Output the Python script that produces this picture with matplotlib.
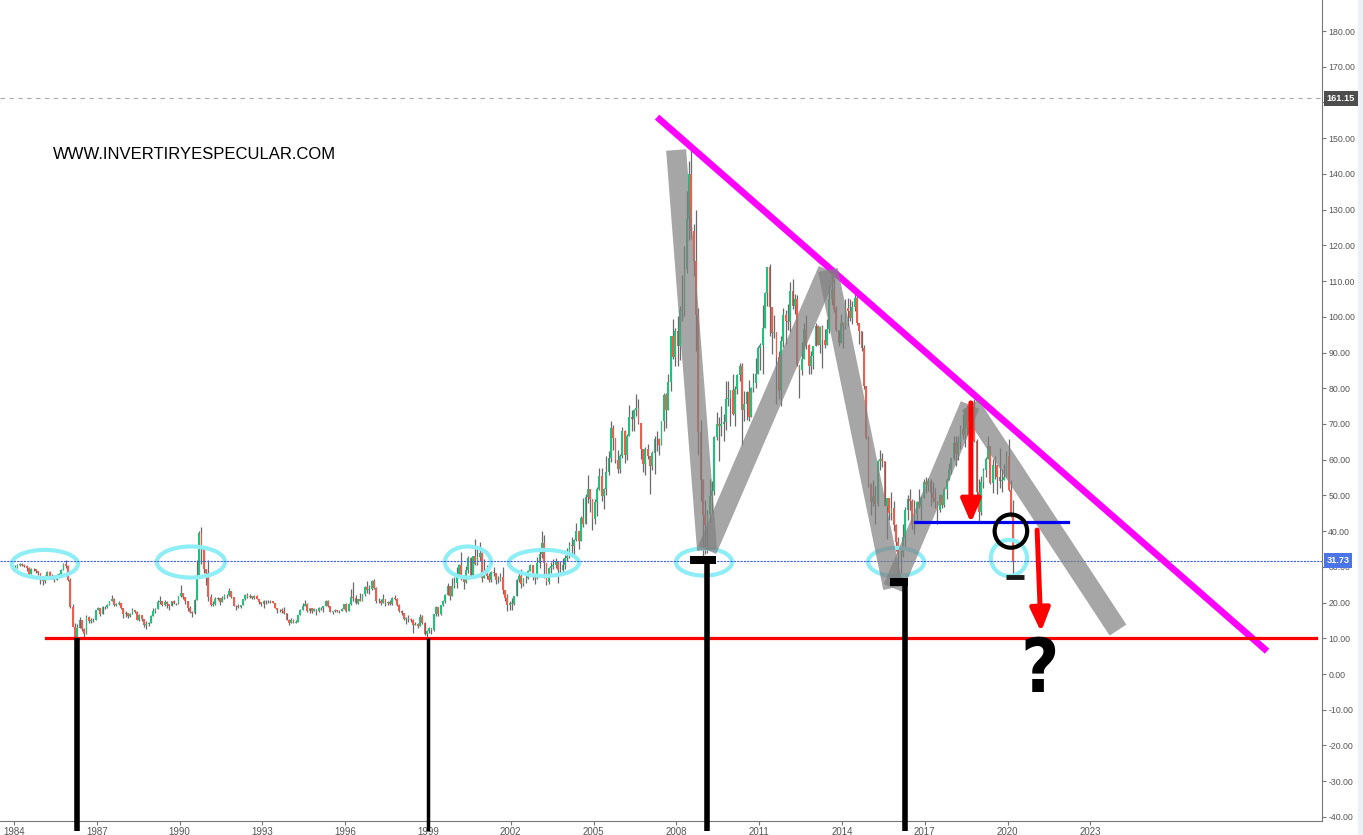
import matplotlib
matplotlib.use('Agg')
import matplotlib.pyplot as plt
import matplotlib.transforms as mtransforms
from matplotlib.patches import Ellipse, Rectangle
import numpy as np

# WTI mensual (cierre / maximo / minimo), enero 1984 - marzo 2020
first_open = 29.9
close = [
    29.7, 30.6, 30.7, 30.5, 30.3, 29.8, 28.1, 29.5, 29.3, 28.7, 28.3, 26.4,
    25.9, 27.5, 28.5, 26.9, 27.5, 26.3, 27.6, 27.9, 29.2, 30.7, 30.2, 26.3,
    18.8, 13.3, 10.4, 12.8, 15.1, 12.6, 11.1, 15.9, 14.9, 15.2, 15.0, 17.9,
    18.5, 16.8, 18.8, 18.7, 19.4, 20.3, 20.9, 19.2, 19.6, 19.9, 18.4, 16.7,
    17.0, 16.2, 16.8, 17.9, 17.4, 15.2, 16.5, 15.4, 13.6, 14.0, 14.2, 16.3,
    17.7, 18.3, 20.2, 20.5, 19.3, 20.1, 19.6, 19.0, 20.3, 19.9, 19.9, 21.8,
    22.7, 21.5, 20.3, 18.5, 17.4, 17.1, 20.7, 27.2, 39.5, 35.2, 29.5, 28.4,
    21.5, 19.2, 19.6, 20.9, 21.2, 20.2, 21.4, 22.0, 22.2, 23.2, 21.5, 19.1,
    18.9, 18.7, 19.2, 20.9, 22.1, 21.5, 21.8, 21.4, 21.9, 21.0, 20.1, 19.5,
    20.3, 20.4, 20.3, 20.4, 19.9, 18.6, 17.8, 18.0, 17.6, 17.0, 15.2, 14.2,
    15.2, 14.4, 14.7, 16.4, 17.9, 19.1, 19.6, 17.6, 18.4, 17.6, 18.1, 17.7,
    18.4, 18.5, 18.9, 20.3, 19.0, 17.4, 17.6, 17.9, 17.6, 17.6, 18.2, 19.6,
    17.7, 19.5, 21.5, 21.2, 19.8, 20.9, 20.4, 22.3, 24.4, 23.4, 23.8, 25.9,
    24.2, 20.3, 20.4, 19.9, 20.9, 19.8, 20.1, 19.6, 21.2, 21.1, 19.2, 17.6,
    17.2, 15.4, 15.6, 15.3, 15.2, 13.7, 14.1, 13.4, 16.1, 14.4, 11.2, 12.1,
    12.8, 12.3, 16.8, 18.7, 16.8, 19.3, 20.5, 22.1, 24.5, 21.8, 24.6, 25.6,
    27.6, 30.4, 26.9, 25.7, 29.0, 32.5, 27.4, 33.1, 30.8, 32.7, 34.0, 26.8,
    28.7, 27.4, 26.3, 28.5, 28.4, 26.3, 26.4, 27.2, 23.4, 21.2, 19.4, 19.8,
    19.5, 21.7, 26.3, 27.3, 25.3, 26.9, 27.0, 28.9, 30.5, 27.2, 26.9, 31.2,
    33.5, 36.6, 31.0, 25.8, 29.6, 30.2, 30.5, 31.6, 29.2, 29.1, 30.4, 32.5,
    33.1, 36.2, 35.8, 37.4, 39.9, 37.1, 43.8, 42.1, 49.6, 51.8, 49.1, 43.5,
    48.2, 51.8, 55.4, 49.7, 51.9, 56.5, 60.6, 68.9, 66.2, 59.8, 57.3, 61.0,
    67.9, 61.4, 66.6, 71.9, 71.3, 73.9, 74.4, 70.3, 62.9, 58.7, 63.1, 61.1,
    58.1, 62.0, 65.9, 65.7, 64.0, 70.7, 78.2, 74.0, 81.7, 94.5, 88.7, 96.0,
    91.8, 101.8, 101.6, 113.5, 127.4, 140.0, 124.1, 115.5, 100.6, 67.8, 54.4, 44.6,
    41.7, 44.8, 49.7, 51.1, 66.3, 69.9, 69.5, 70.0, 70.6, 77.0, 77.3, 79.4,
    72.9, 79.7, 83.8, 86.2, 74.0, 75.6, 78.9, 71.9, 80.0, 81.4, 84.1, 91.4,
    92.2, 97.0, 106.7, 113.9, 102.7, 95.4, 95.7, 88.8, 79.2, 93.2, 100.4, 98.8,
    98.5, 107.1, 103.0, 104.9, 86.5, 85.0, 88.1, 96.5, 92.2, 86.2, 88.9, 91.8,
    97.5, 92.1, 97.2, 93.5, 92.0, 96.6, 105.0, 107.7, 102.3, 96.4, 92.7, 98.4,
    97.5, 102.6, 101.6, 99.7, 102.7, 105.4, 98.2, 96.0, 91.2, 80.5, 66.2, 53.3,
    48.2, 49.8, 47.6, 59.6, 60.3, 59.5, 47.1, 49.2, 45.1, 46.6, 41.7, 37.0,
    33.6, 33.8, 38.3, 45.9, 49.1, 48.3, 41.6, 44.7, 48.2, 46.9, 49.4, 53.7,
    52.8, 54.0, 50.6, 49.3, 48.3, 46.0, 50.2, 47.2, 51.7, 54.4, 57.4, 60.4,
    64.7, 61.6, 64.9, 68.6, 67.0, 74.2, 68.8, 69.8, 73.3, 65.3, 50.9, 45.4,
    53.8, 57.2, 60.1, 63.9, 53.5, 58.5, 58.6, 55.1, 54.1, 54.2, 55.2, 61.1,
    51.6, 44.8, 31.73,
]
high = [
    30.6, 30.8, 31.2, 31.0, 30.9, 30.4, 29.9, 29.7, 29.8, 29.5, 28.9, 28.4,
    26.6, 27.8, 28.8, 28.7, 27.9, 27.6, 27.9, 28.3, 29.5, 31.0, 31.8, 30.4,
    26.8, 19.6, 14.2, 13.9, 16.0, 15.2, 13.0, 16.4, 16.2, 15.8, 15.6, 18.0,
    18.8, 18.6, 18.9, 19.1, 19.6, 20.4, 22.2, 21.3, 19.8, 20.4, 19.4, 18.5,
    17.5, 17.2, 17.0, 18.5, 18.0, 17.5, 16.8, 16.6, 15.5, 14.8, 14.6, 16.6,
    18.4, 18.5, 20.8, 21.9, 20.4, 20.6, 20.3, 19.7, 20.5, 20.8, 20.0, 21.9,
    25.0, 22.8, 21.6, 20.5, 19.1, 17.6, 21.0, 31.9, 40.0, 41.2, 35.3, 29.0,
    32.0, 22.3, 20.5, 21.5, 21.6, 21.2, 21.8, 22.3, 22.5, 24.0, 23.2, 20.6,
    19.4, 19.5, 19.4, 21.0, 22.3, 22.6, 22.3, 21.9, 22.2, 22.0, 21.0, 20.0,
    20.6, 20.6, 20.7, 20.7, 20.3, 19.8, 18.5, 18.2, 18.4, 18.8, 17.1, 15.3,
    15.6, 15.3, 15.1, 16.5, 18.3, 19.9, 20.6, 19.9, 18.6, 18.5, 18.4, 18.0,
    18.8, 18.8, 19.0, 20.8, 20.6, 19.0, 17.7, 18.2, 18.0, 17.8, 18.5, 19.7,
    19.8, 19.8, 23.8, 25.8, 22.0, 21.1, 22.7, 22.5, 24.7, 25.9, 24.8, 26.2,
    26.6, 24.4, 21.3, 20.9, 22.3, 20.9, 20.5, 20.8, 21.5, 22.1, 21.2, 19.5,
    17.9, 17.1, 16.0, 16.5, 15.6, 15.3, 14.7, 14.2, 16.8, 16.4, 14.6, 12.3,
    13.1, 12.9, 16.9, 18.9, 18.8, 19.4, 20.7, 22.3, 25.6, 24.6, 26.8, 27.2,
    30.0, 30.9, 34.1, 27.8, 30.2, 33.0, 32.7, 33.1, 37.8, 34.9, 37.0, 34.2,
    32.2, 30.4, 28.3, 28.8, 29.9, 28.3, 27.5, 28.4, 29.9, 23.3, 22.5, 20.5,
    21.3, 21.9, 26.5, 28.4, 29.4, 27.0, 28.0, 29.2, 30.8, 30.6, 27.7, 32.7,
    34.3, 39.9, 38.9, 31.1, 30.0, 31.4, 32.1, 32.5, 29.6, 31.7, 32.6, 33.3,
    35.2, 37.0, 38.4, 37.9, 42.3, 40.0, 44.3, 49.4, 50.5, 55.7, 51.6, 46.4,
    49.1, 52.3, 57.6, 57.6, 52.2, 60.9, 62.3, 70.9, 69.8, 66.0, 62.6, 61.7,
    69.2, 68.3, 67.2, 75.4, 73.8, 74.2, 78.4, 77.0, 70.0, 61.5, 63.5, 64.4,
    61.1, 62.3, 66.7, 67.9, 66.2, 70.9, 78.8, 78.8, 83.9, 94.7, 99.3, 96.8,
    100.1, 103.1, 111.8, 119.9, 135.1, 143.7, 147.3, 126.0, 130.0, 102.6, 71.0, 54.7,
    48.6, 45.8, 54.7, 53.9, 66.5, 73.4, 71.9, 75.0, 72.8, 82.0, 82.0, 79.6,
    83.9, 80.5, 83.9, 87.2, 87.2, 79.3, 79.3, 82.4, 80.3, 84.4, 88.6, 91.9,
    92.6, 103.4, 106.9, 114.0, 114.8, 102.6, 100.6, 95.5, 90.5, 94.6, 102.4, 101.9,
    103.7, 109.8, 110.6, 106.3, 106.1, 86.2, 92.9, 98.3, 100.4, 92.4, 90.3, 91.6,
    98.2, 97.8, 97.4, 97.8, 96.6, 99.3, 108.9, 112.2, 110.7, 103.1, 95.3, 100.8,
    98.6, 104.9, 105.2, 104.9, 104.5, 107.7, 106.1, 98.0, 95.9, 92.2, 80.5, 66.6,
    53.6, 54.2, 52.5, 59.9, 62.6, 61.9, 59.7, 49.4, 48.7, 50.9, 48.4, 42.0,
    38.4, 34.7, 41.9, 46.8, 50.2, 51.7, 49.0, 48.8, 48.4, 51.9, 49.9, 54.5,
    55.2, 54.9, 54.6, 53.8, 52.0, 48.3, 50.4, 50.2, 52.4, 54.9, 59.1, 60.5,
    66.7, 66.7, 66.6, 69.6, 72.9, 74.5, 75.3, 71.4, 74.0, 76.9, 65.8, 54.6,
    55.4, 57.8, 60.7, 66.6, 63.9, 60.1, 60.9, 57.5, 63.4, 57.5, 58.7, 62.3,
    65.7, 54.3, 48.7,
]
low = [
    29.2, 29.6, 30.3, 30.1, 29.9, 28.9, 27.8, 27.9, 28.9, 28.4, 27.7, 25.3,
    24.9, 25.6, 27.3, 26.5, 26.6, 25.8, 26.2, 27.3, 27.6, 29.1, 29.6, 26.0,
    18.4, 13.1, 10.0, 10.4, 12.8, 12.0, 10.4, 11.6, 14.3, 14.4, 14.7, 15.0,
    17.8, 16.2, 16.7, 18.1, 18.6, 19.3, 20.3, 18.9, 18.9, 19.3, 18.3, 15.6,
    16.1, 15.8, 15.9, 16.7, 17.2, 15.0, 14.9, 14.9, 13.3, 12.6, 13.5, 14.3,
    16.3, 17.2, 18.2, 19.7, 18.9, 19.0, 18.6, 18.0, 19.0, 19.5, 19.2, 19.7,
    21.6, 21.1, 19.6, 17.5, 17.0, 15.9, 16.8, 26.3, 27.6, 30.9, 28.3, 25.0,
    20.5, 18.9, 18.9, 19.4, 20.7, 19.2, 20.3, 21.1, 21.2, 21.8, 21.3, 19.0,
    17.9, 18.5, 18.4, 19.2, 20.8, 21.4, 21.2, 21.0, 21.0, 20.9, 19.7, 19.1,
    18.6, 19.6, 20.0, 20.0, 19.8, 18.4, 17.1, 17.4, 17.2, 16.8, 15.0, 13.8,
    14.3, 14.2, 14.2, 14.6, 16.4, 17.8, 19.0, 17.3, 17.2, 17.2, 17.5, 16.6,
    17.3, 17.8, 17.4, 18.9, 18.7, 17.3, 16.9, 17.3, 17.3, 17.0, 17.5, 18.2,
    17.3, 17.5, 19.2, 20.3, 19.5, 19.5, 20.3, 20.3, 21.9, 22.8, 22.4, 23.5,
    23.9, 19.9, 19.8, 19.2, 19.9, 19.1, 19.2, 19.4, 19.2, 20.8, 18.9, 17.4,
    16.4, 15.2, 13.9, 14.7, 14.6, 11.4, 13.6, 12.9, 13.5, 14.0, 10.8, 10.4,
    11.4, 11.3, 12.1, 16.2, 16.3, 16.4, 19.0, 20.0, 22.0, 20.8, 21.9, 24.0,
    24.1, 27.1, 26.4, 23.9, 25.4, 28.4, 27.2, 27.5, 30.4, 30.4, 31.7, 25.8,
    26.8, 26.6, 25.7, 25.8, 27.5, 25.3, 25.4, 26.0, 22.5, 20.4, 17.5, 17.8,
    17.9, 19.3, 21.7, 25.7, 24.2, 24.6, 25.5, 26.6, 28.9, 26.4, 25.1, 26.7,
    29.6, 32.6, 26.8, 24.8, 25.1, 28.4, 29.3, 29.7, 25.5, 28.0, 28.5, 29.4,
    31.7, 32.5, 33.6, 33.4, 37.2, 35.0, 37.3, 41.2, 42.1, 48.0, 45.3, 40.3,
    42.0, 44.2, 51.4, 48.5, 46.2, 50.1, 55.6, 59.4, 62.6, 59.0, 56.3, 56.3,
    60.4, 59.0, 60.0, 66.6, 68.1, 67.9, 72.3, 69.9, 60.2, 56.6, 55.7, 60.3,
    50.5, 57.1, 56.1, 62.4, 61.3, 64.0, 68.0, 69.0, 73.9, 79.2, 88.1, 86.3,
    86.1, 87.8, 98.7, 100.1, 112.3, 121.6, 121.8, 111.3, 90.5, 61.3, 48.3, 32.4,
    33.6, 34.0, 42.6, 45.1, 50.0, 65.6, 59.5, 66.5, 65.1, 68.2, 75.0, 69.5,
    72.4, 69.5, 78.3, 82.0, 64.2, 70.7, 71.1, 70.8, 72.6, 79.0, 80.2, 84.5,
    85.1, 84.1, 96.8, 102.9, 94.6, 89.6, 94.1, 75.7, 77.1, 74.9, 91.6, 92.5,
    96.4, 95.8, 102.1, 100.7, 86.3, 77.3, 83.7, 89.6, 91.0, 84.0, 84.1, 85.5,
    91.9, 92.0, 90.0, 85.6, 91.2, 92.1, 95.6, 103.3, 101.4, 95.9, 91.8, 92.6,
    91.2, 96.6, 97.4, 98.7, 98.1, 101.5, 97.6, 92.5, 90.3, 79.8, 65.7, 52.4,
    44.4, 47.1, 42.0, 47.1, 57.1, 58.0, 47.0, 37.8, 43.2, 43.0, 39.9, 34.5,
    26.2, 26.1, 32.7, 35.2, 43.0, 45.8, 40.6, 39.2, 42.5, 46.6, 43.0, 49.9,
    50.7, 51.2, 47.1, 48.2, 46.6, 42.1, 45.4, 46.5, 46.7, 49.1, 54.2, 56.1,
    59.9, 58.1, 59.9, 62.9, 65.8, 63.6, 67.0, 64.4, 67.2, 65.0, 49.4, 42.4,
    44.4, 52.0, 55.1, 60.6, 53.1, 50.6, 54.7, 50.5, 52.0, 50.9, 54.4, 55.9,
    51.3, 44.0, 27.3,
]

year_ticks = list(range(1984, 2024, 3))
price_ticks = list(range(-40, 190, 10))
last_price = 31.73
marker_price = 161.15

# dibujo a mano sobre el grafico (anio, precio)
trend_x = [2007.30, 2029.40]
trend_y = [155.9, 6.4]
zig_x = [2007.99, 2009.11, 2013.49, 2015.85, 2018.64, 2024.0]
zig_y = [146.7, 34.7, 113.1, 24.1, 75.3, 12.3]
support = 10.0
neck_x = [2016.64, 2022.19]
neck_y = 42.5
bar_x = [1986.28, 1999.0, 2009.11, 2016.28]
bar_top = [10.0, 10.0, 31.9, 26.0]
bar_lw = [4.0, 2.5, 4.0, 4.0]
cap_x0 = [2008.49, 2015.74]
cap_x1 = [2009.43, 2016.39]
cap_y = [31.9, 25.8]
ell_x = [1985.12, 1990.41, 2000.45, 2003.20, 2009.0, 2015.96, 2020.05]
ell_y = [30.8, 31.35, 31.35, 31.1, 31.35, 31.35, 32.5]
ell_w = [2.40, 2.47, 1.67, 2.54, 2.03, 2.03, 1.31]
ell_h = [7.9, 8.7, 8.7, 7.3, 7.6, 7.9, 10.1]
arrows = [((2018.67, 75.9), (2018.67, 42.3)), ((2021.07, 40.3), (2021.21, 11.8))]

fig = plt.figure(figsize=(13.63, 8.35), dpi=100)
fig.patches.append(Rectangle((1358 / 1363, 0), 5 / 1363, 1, transform=fig.transFigure,
                             color='#edf0f5', zorder=-1))
ax = fig.add_axes([0, 14 / 835, 1322 / 1363, 821 / 835])
ax.set_xlim(1983.493, 2031.391)
ax.set_ylim(-41.15, 188.69)

# velas
n = len(close)
t = 1984 + (np.arange(n) + 0.5) / 12
cl = np.array(close)
op = np.r_[first_open, cl[:-1]]
hi = np.maximum(np.array(high), np.maximum(op, cl))
lo = np.minimum(np.array(low), np.minimum(op, cl))
up = cl >= op
ax.vlines(t, lo, hi, color='#6a6a6a', lw=0.9, zorder=2)
ax.bar(t[up], (cl - op)[up], bottom=op[up], width=0.068, color='#1fc27d', zorder=3)
ax.bar(t[~up], (cl - op)[~up], bottom=op[~up], width=0.068, color='#f25c4c', zorder=3)

ax.axhline(marker_price, color='#aaaaaa', lw=0.8, dashes=(4, 4), zorder=1)

for cx, cy, w, h in zip(ell_x, ell_y, ell_w, ell_h):
    ax.add_patch(Ellipse((cx, cy), w, h, fill=False, ec='#8eeef6', lw=3.0, zorder=4))
ax.axhline(last_price, color='#3b5fe6', lw=0.8, ls=(0, (2, 1)), zorder=5)

ax.plot(trend_x, trend_y, color='#ff00ff', lw=4.8, solid_capstyle='butt', zorder=6)
for i in range(len(zig_x) - 1):
    ax.plot(zig_x[i:i + 2], zig_y[i:i + 2], color='#808080', alpha=0.7, lw=14.4,
            solid_capstyle='butt', zorder=7)

ax.plot([1985.16, 2031.17], [support, support], color='#ff0000', lw=2.3, zorder=8)
ax.plot(neck_x, [neck_y, neck_y], color='#0000ee', lw=2.3, zorder=8)

for x, top, lw in zip(bar_x, bar_top, bar_lw):
    ax.plot([x, x], [top, -44], color='black', lw=lw, solid_capstyle='butt',
            clip_on=False, zorder=9)
for x0, x1, y in zip(cap_x0, cap_x1, cap_y):
    ax.plot([x0, x1], [y, y], color='black', lw=5.8, solid_capstyle='butt', zorder=9)
ax.plot([2019.94, 2020.59], [27.2, 27.2], color='#1a1a1a', lw=3.5,
        solid_capstyle='butt', zorder=9)

ax.add_patch(Ellipse((2020.12, 40.0), 1.18, 9.3, fill=False, ec='black', lw=3.0, zorder=9))

for tail, tip in arrows:
    ax.annotate('', xy=tip, xytext=tail, zorder=10,
                arrowprops=dict(arrowstyle='-|>,head_length=1.4,head_width=0.6',
                                mutation_scale=10, lw=3.6, color='#ff0000',
                                shrinkA=0, shrinkB=0))

ax.text(2021.17, 0.6, '?', fontsize=53, fontweight='bold', fontstretch='condensed',
        ha='center', va='center', family=['DejaVu Sans'], color='black', zorder=10)
ax.text(1985.41, 145.3, 'WWW.INVERTIRYESPECULAR.COM', fontsize=12, ha='left',
        va='center', family=['Liberation Sans', 'DejaVu Sans'], color='black')

# ejes
ax.yaxis.tick_right()
ax.set_yticks(price_ticks)
ax.set_yticklabels([f'{v:.2f}' for v in price_ticks])
ax.set_xticks(year_ticks)
ax.set_xticklabels([str(y) for y in year_ticks])
ax.tick_params(axis='y', labelsize=6.3, labelcolor='#555555', color='#777777',
               length=3, pad=1.5)
ax.tick_params(axis='x', labelsize=7, labelcolor='#555555', color='#777777',
               length=3, pad=1)
for lab in ax.get_xticklabels() + ax.get_yticklabels():
    lab.set_family(['Liberation Sans', 'DejaVu Sans'])
for s in ['top', 'left']:
    ax.spines[s].set_visible(False)
for s in ['right', 'bottom']:
    ax.spines[s].set_color('#777777')
    ax.spines[s].set_linewidth(0.8)

tr = mtransforms.blended_transform_factory(ax.transAxes, ax.transData)
ax.text(1.0035, marker_price, '161.15', transform=tr, ha='left', va='center',
        fontsize=6.6, color='white', fontweight='bold', family=['Liberation Sans', 'DejaVu Sans'],
        bbox=dict(boxstyle='square,pad=0.3', fc='#4d4d4d', ec='none'), zorder=12)
ax.text(1.0035, last_price, '31.73', transform=tr, ha='left', va='center',
        fontsize=6.6, color='white', fontweight='bold', family=['Liberation Sans', 'DejaVu Sans'],
        bbox=dict(boxstyle='square,pad=0.3', fc='#4a74e8', ec='none'), zorder=12)

fig.savefig('out.png', dpi=100)
